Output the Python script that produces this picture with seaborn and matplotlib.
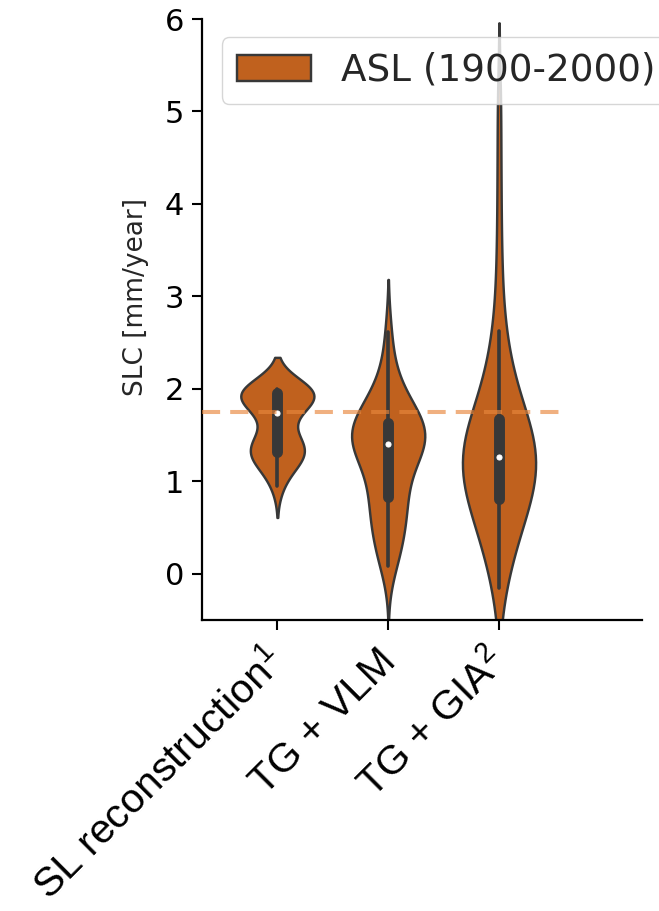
import numpy as np
import pandas as pd
import matplotlib
matplotlib.use("Agg")
import matplotlib.pyplot as plt
import matplotlib.transforms as mtransforms
import seaborn as sns

# ---- data ----
categories = ["SL reconstruction$^1$", "TG + VLM", "TG + GIA$^2$"]
sl_reconstruction = [0.95, 1.08, 1.17, 1.23, 1.27, 1.29, 1.30, 1.31, 1.34, 1.37,
                     1.40, 1.43, 1.48, 1.56, 1.70, 1.78, 1.83, 1.86, 1.88, 1.90,
                     1.92, 1.94, 1.955, 1.965, 1.97, 1.98, 1.985, 1.99, 1.995, 2.00]
tg_vlm = [0.08, 0.18, 0.28, 0.36, 0.44, 0.52, 0.60, 0.67, 0.74, 0.80,
          0.84, 0.92, 1.00, 1.08, 1.15, 1.22, 1.28, 1.33, 1.37, 1.39,
          1.41, 1.43, 1.45, 1.47, 1.49, 1.51, 1.54, 1.57, 1.60, 1.63,
          1.65, 1.68, 1.72, 1.77, 1.83, 1.90, 1.98, 2.08, 2.28, 2.62]
tg_gia = [-0.15, 0.02, 0.15, 0.26, 0.36, 0.45, 0.53, 0.60, 0.66, 0.71,
          0.75, 0.78, 0.80, 0.84, 0.89, 0.94, 0.99, 1.03, 1.07, 1.11,
          1.15, 1.18, 1.21, 1.23, 1.25, 1.27, 1.29, 1.32, 1.35, 1.39,
          1.43, 1.47, 1.51, 1.55, 1.59, 1.62, 1.64, 1.68, 1.78, 1.87,
          1.96, 2.06, 2.17, 2.29, 2.43, 2.63, 3.05, 3.55, 4.25, 5.05]
period_label = "ASL (1900-2000)"
reference_rate = 1.75
yticks = [0, 1, 2, 3, 4, 5, 6]
ylabel = "SLC [mm/year]"

# ---- style ----
sns.set_style("ticks")
plt.rcParams.update({
    "font.family": ["DejaVu Sans"],
    "mathtext.fontset": "custom",
    "mathtext.rm": "Liberation Sans",
    "mathtext.it": "Liberation Sans",
    "mathtext.bf": "Liberation Sans:bold",
    "axes.edgecolor": "black",
    "axes.linewidth": 1.6,
    "xtick.color": "black",
    "ytick.color": "black",
    "xtick.major.size": 7,
    "ytick.major.size": 7,
    "xtick.major.width": 1.5,
    "ytick.major.width": 1.5,
})

rows = []
for cat, vals in zip(categories, [sl_reconstruction, tg_vlm, tg_gia]):
    for v in vals:
        rows.append((cat, v, period_label))
df = pd.DataFrame(rows, columns=["source", "SLC", "period"])

fig = plt.figure(figsize=(6.59, 9.11), dpi=100)
ax = fig.add_axes([0.3065, 0.3194, 0.6677, 0.6597])

sns.violinplot(data=df, x="source", y="SLC", hue="period", order=categories,
               palette={period_label: "#c0611e"}, saturation=1, width=0.66,
               density_norm="width", inner="box", linewidth=1.75,
               linecolor="#383838", inner_kws={"marker": "o"}, ax=ax)

# smaller white median dots
for ln in ax.lines:
    if ln.get_marker() == "o":
        ln.set_markersize(3.6)
        ln.set_markeredgewidth(0.8)

ax.axhline(reference_rate, xmin=0, xmax=0.825, color="#e8863c", alpha=0.65,
           lw=2.9, dashes=(4.5, 2.5), zorder=5)

ax.set_xlim(-0.68, 3.29)
ax.set_ylim(-0.5, 6)
ax.set_yticks(yticks)
ax.set_yticklabels([str(t) for t in yticks], fontsize=22)
ax.tick_params(axis="y", pad=6)
ax.set_xlabel("")
ax.set_ylabel(ylabel, fontsize=19)
ax.yaxis.set_label_coords(-0.12, 0.537)
ax.set_xticks(range(len(categories)))
ax.set_xticklabels(categories, rotation=45, ha="right", fontsize=29.5,
                   fontfamily="Liberation Sans")
offset = mtransforms.ScaledTranslation(15 / 100, -7 / 100, fig.dpi_scale_trans)
for lab in ax.get_xticklabels():
    lab.set_transform(lab.get_transform() + offset)
sns.despine(ax=ax)

sns.move_legend(ax, "upper left", bbox_to_anchor=(0.045, 0.97), borderaxespad=0,
                title=None, fontsize=26.8, handlelength=2.0, frameon=True)

fig.savefig("out.png", dpi=100)
